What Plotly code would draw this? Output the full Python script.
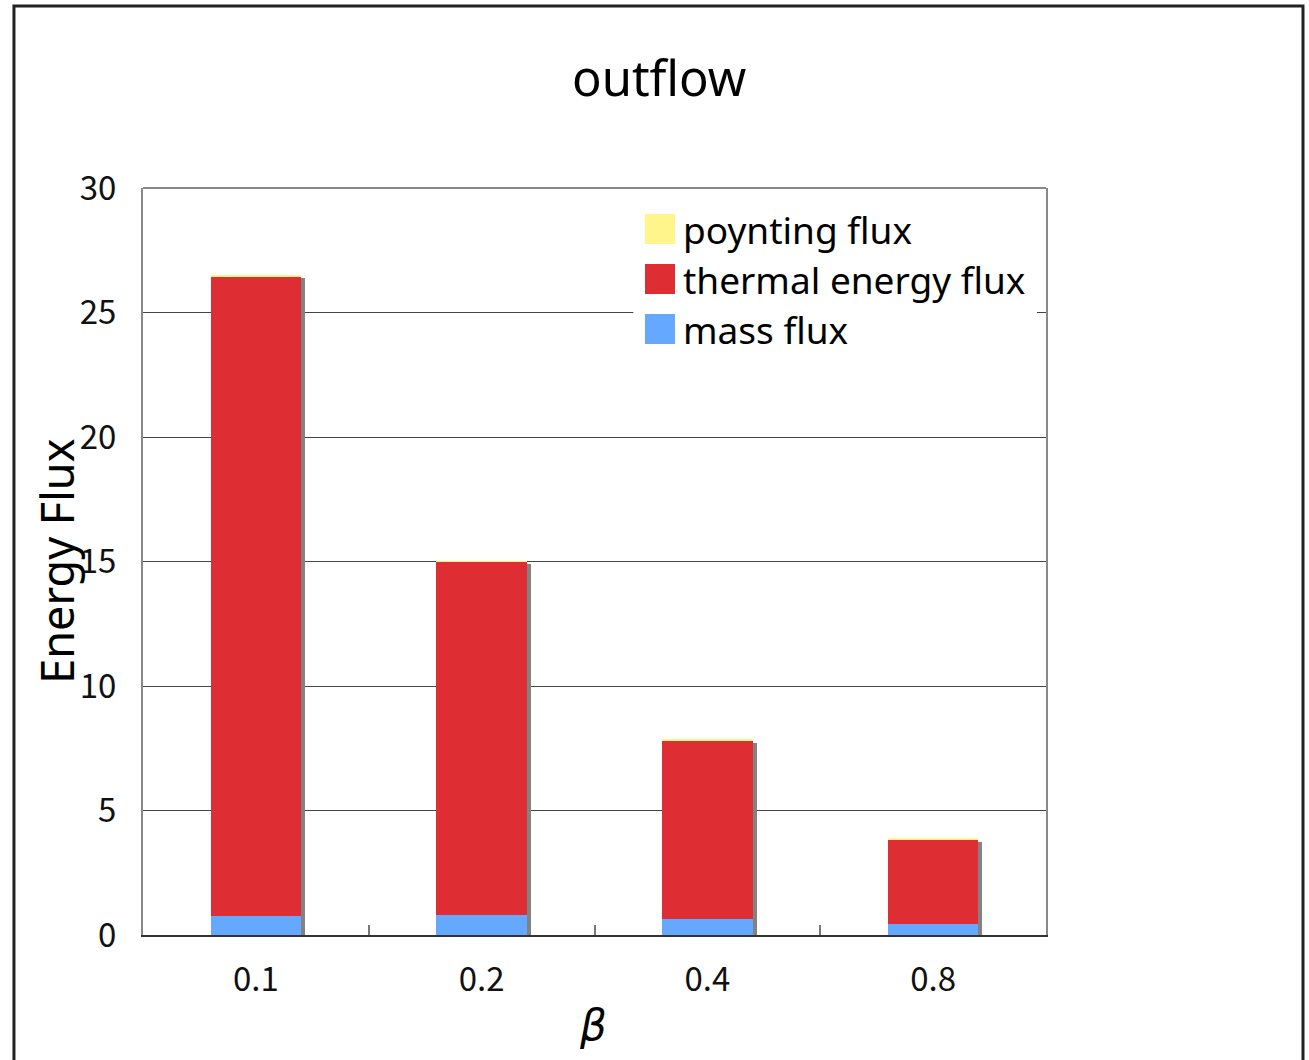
import plotly.graph_objects as go

# Plasma beta values and energy flux components of the outflow
beta_labels = ["0.1", "0.2", "0.4", "0.8"]
mass_flux = [0.76, 0.80, 0.64, 0.44]
thermal_flux = [25.70, 14.18, 7.16, 3.41]
poynting_flux = [0.06, 0.02, 0.04, 0.02]

series_names = ["poynting flux", "thermal energy flux", "mass flux"]
YELLOW = "#FFF58A"
RED = "#DE2D33"
BLUE = "#64A8FF"
SHADOW = "#828282"

BAR_W = 0.40
x_pos = list(range(len(beta_labels)))
totals = [m + t + p for m, t, p in zip(mass_flux, thermal_flux, poynting_flux)]
thermal_base = mass_flux
poynting_base = [m + t for m, t in zip(mass_flux, thermal_flux)]

fig = go.Figure()

# drop shadow behind each stacked column (slightly right and down)
fig.add_trace(go.Bar(
    x=x_pos, y=[t - 0.12 for t in totals], base=0, width=BAR_W,
    offset=-BAR_W / 2 + 0.018, marker=dict(color=SHADOW, line_width=0),
    showlegend=False, hoverinfo="skip",
))
fig.add_trace(go.Bar(
    x=x_pos, y=mass_flux, base=0, width=BAR_W, name=series_names[2],
    marker=dict(color=BLUE, line_width=0), showlegend=False,
))
fig.add_trace(go.Bar(
    x=x_pos, y=thermal_flux, base=thermal_base, width=BAR_W, name=series_names[1],
    marker=dict(color=RED, line_width=0), showlegend=False,
))
fig.add_trace(go.Bar(
    x=x_pos, y=poynting_flux, base=poynting_base, width=BAR_W, name=series_names[0],
    marker=dict(color=YELLOW, line_width=0), showlegend=False,
))
# invisible trace that carries the category-boundary tick marks
fig.add_trace(go.Scatter(x=[], y=[], xaxis="x2", showlegend=False))

tick_font = dict(family="Noto Sans CJK JP", size=33, color="#111")
text_font = "Noto Sans"

fig.update_layout(
    width=1309, height=1060,
    margin=dict(l=143, r=263, t=188, b=125),
    paper_bgcolor="white", plot_bgcolor="white",
    barmode="overlay", bargap=0,
    showlegend=False,
    xaxis=dict(
        range=[-0.5, 3.5], tickvals=x_pos, ticktext=beta_labels,
        tickfont=tick_font, ticks="", showgrid=False, zeroline=False,
        showline=True, linecolor="#333", linewidth=2,
        ticklabelstandoff=14,
    ),
    xaxis2=dict(
        overlaying="x", anchor="y", side="bottom", range=[-0.5, 3.5],
        tickvals=[0.5, 1.5, 2.5], showticklabels=False,
        ticks="inside", ticklen=10, tickwidth=2, tickcolor="#777",
        showgrid=False, zeroline=False, showline=False,
    ),
    yaxis=dict(
        range=[0, 30], tickvals=[0, 5, 10, 15, 20, 25, 30],
        tickfont=tick_font, ticks="", ticklabelstandoff=18,
        showgrid=True, gridcolor="#444", gridwidth=1, zeroline=False,
        showline=True, linecolor="#888", linewidth=2, mirror=True,
    ),
)

shapes = [
    # top edge of the plotting area
    dict(type="line", xref="paper", yref="paper", x0=0, x1=1, y0=1, y1=1,
         line=dict(color="#888", width=2)),
    # outer chart frame
    dict(type="rect", xref="paper", yref="paper",
         x0=-0.1429, x1=1.2846, y0=-0.3, y1=1.2436,
         line=dict(color="#222", width=3), fillcolor="rgba(0,0,0,0)"),
    # legend background
    dict(type="rect", xref="paper", yref="paper",
         x0=0.543, x1=0.990, y0=0.775, y1=0.985,
         line=dict(width=0), fillcolor="white", layer="above"),
]

annotations = [
    dict(text="outflow", xref="paper", yref="paper", x=0.571, y=1.148,
         showarrow=False, font=dict(family=text_font, size=49, color="#000"),
         xanchor="center", yanchor="middle"),
    dict(text="Energy Flux", xref="paper", yref="paper", x=-0.096, y=0.5,
         textangle=-90, showarrow=False,
         font=dict(family=text_font, size=45, color="#000"),
         xanchor="center", yanchor="middle"),
    dict(text="<i>β</i>", xref="paper", yref="paper", x=0.498, y=-0.121,
         showarrow=False, font=dict(family="DejaVu Sans", size=42, color="#000"),
         xanchor="center", yanchor="middle"),
]

# legend: swatch squares and labels
legend_colors = [YELLOW, RED, BLUE]
legend_y_px = [229, 279, 329]
for name, col, ypx in zip(series_names, legend_colors, legend_y_px):
    yc = (935 - ypx) / 747
    h = 15 / 747
    shapes.append(dict(type="rect", xref="paper", yref="paper",
                       x0=(645 - 143) / 903, x1=(675 - 143) / 903,
                       y0=yc - h, y1=yc + h, line=dict(width=0),
                       fillcolor=col, layer="above"))
    annotations.append(dict(text=name, xref="paper", yref="paper",
                            x=(681 - 143) / 903, y=yc, showarrow=False,
                            xanchor="left", yanchor="middle",
                            font=dict(family=text_font, size=37, color="#000")))

fig.update_layout(shapes=shapes, annotations=annotations)

fig.write_html("out.html")
